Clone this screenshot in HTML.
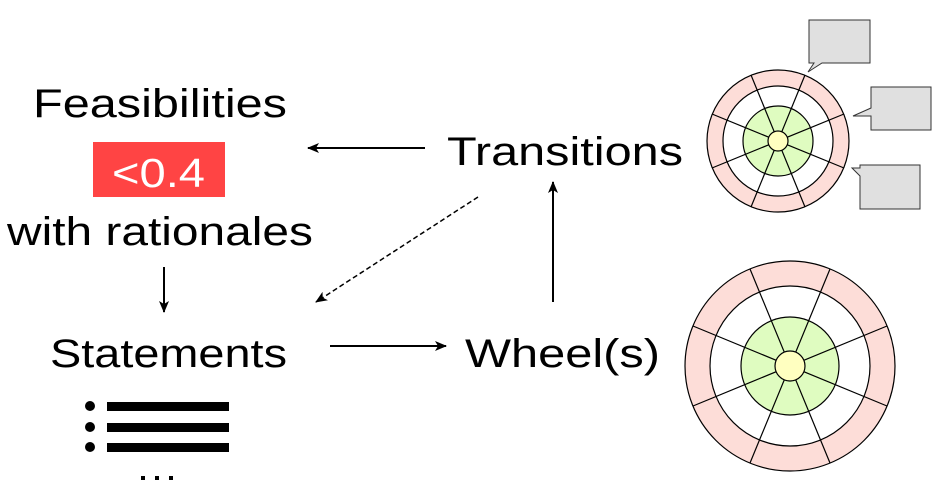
<!DOCTYPE html>
<html><head><meta charset="utf-8"><style>html,body{margin:0;padding:0;background:#fff}svg{display:block}</style></head>
<body>
<svg width="938" height="486" viewBox="0 0 938 486" xmlns="http://www.w3.org/2000/svg" font-family="Liberation Sans, Arial, sans-serif">
<defs>
<marker id="ah" markerWidth="12" markerHeight="10" refX="11" refY="5" orient="auto" markerUnits="userSpaceOnUse">
<path d="M0,0 L12,5 L0,10 L3,5 z" fill="#000"/>
</marker>
</defs>
<text x="33" y="117" font-size="40" textLength="254" lengthAdjust="spacingAndGlyphs">Feasibilities</text>
<rect x="93" y="142" width="132" height="55" fill="#ff4444"/>
<text x="112" y="187" font-size="41" fill="#fff" textLength="93" lengthAdjust="spacingAndGlyphs">&lt;0.4</text>
<text x="7" y="245" font-size="40" textLength="306" lengthAdjust="spacingAndGlyphs">with rationales</text>
<text x="50" y="367" font-size="40" textLength="237" lengthAdjust="spacingAndGlyphs">Statements</text>
<text x="447" y="165" font-size="40" textLength="236" lengthAdjust="spacingAndGlyphs">Transitions</text>
<text x="465" y="367" font-size="40" textLength="195" lengthAdjust="spacingAndGlyphs">Wheel(s)</text>

<line x1="425" y1="148" x2="308" y2="148" stroke="#000" stroke-width="2" marker-end="url(#ah)"/>
<line x1="478" y1="197" x2="316" y2="302" stroke="#000" stroke-width="1.5" stroke-dasharray="5,3" marker-end="url(#ah)"/>
<line x1="164" y1="267" x2="164" y2="312" stroke="#000" stroke-width="2" marker-end="url(#ah)"/>
<line x1="330" y1="346" x2="446" y2="346" stroke="#000" stroke-width="2" marker-end="url(#ah)"/>
<line x1="553" y1="302" x2="553" y2="182" stroke="#000" stroke-width="2" marker-end="url(#ah)"/>

<g fill="#000">
<circle cx="90" cy="406" r="5"/><circle cx="90" cy="427" r="5"/><circle cx="90" cy="447" r="5"/>
<rect x="107" y="402" width="122" height="9"/><rect x="107" y="423" width="122" height="9"/><rect x="107" y="443" width="122" height="9"/>
<rect x="141" y="476" width="4" height="4"/><rect x="155" y="476" width="4" height="4"/><rect x="169" y="476" width="4" height="4"/>
</g>

<g stroke="#000" stroke-width="1.2">
<circle cx="778" cy="141" r="71" fill="#fdddd8"/>
<circle cx="778" cy="141" r="55" fill="#fff"/>
<circle cx="778" cy="141" r="35" fill="#dffcc0"/>
<line x1="712" y1="114" x2="844" y2="168"/><line x1="712" y1="168" x2="844" y2="114"/>
<line x1="751" y1="75" x2="805" y2="207"/><line x1="805" y1="75" x2="751" y2="207"/>
<circle cx="778" cy="141" r="10" fill="#ffffc0"/>

<circle cx="790" cy="366" r="105" fill="#fdddd8"/>
<circle cx="790" cy="366" r="80" fill="#fff"/>
<circle cx="790" cy="366" r="49" fill="#dffcc0"/>
<line x1="693" y1="326" x2="887" y2="406"/><line x1="693" y1="406" x2="887" y2="326"/>
<line x1="750" y1="269" x2="830" y2="463"/><line x1="830" y1="269" x2="750" y2="463"/>
<circle cx="790" cy="366" r="15" fill="#ffffc0"/>
</g>

<g stroke="#333" stroke-width="1" fill="#e0e0e0">
<path d="M809,20 H870 V63 H822 L808,72 L814,63 H809 Z"/>
<path d="M871,87 H931 V130 H871 V116 L853,116 L871,108 Z"/>
<path d="M860,165 H920 V209 H860 V176 L852,168 L860,168 Z"/>
</g>
</svg>
</body></html>
